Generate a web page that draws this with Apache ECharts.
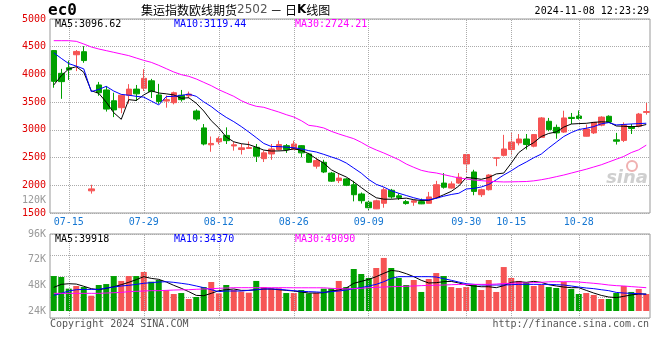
<!DOCTYPE html>
<html><head><meta charset="utf-8">
<script src="https://cdn.jsdelivr.net/npm/echarts/dist/echarts.min.js"></script>
<style>html,body{margin:0;padding:0;background:#fff}#c{width:660px;height:360px}</style>
</head><body><div id="c"></div>
<script>
const dates = ['07-11','07-12','07-15','07-16','07-17','07-18','07-19','07-22','07-23','07-24','07-25','07-26','07-29','07-30','07-31',
'08-01','08-02','08-05','08-06','08-07','08-08','08-09','08-12','08-13','08-14','08-15','08-16','08-19','08-20','08-21','08-22','08-23','08-26','08-27','08-28','08-29','08-30',
'09-02','09-03','09-04','09-05','09-06','09-09','09-10','09-11','09-12','09-13','09-18','09-19','09-20','09-23','09-24','09-25','09-26','09-27','09-30',
'10-08','10-09','10-10','10-11','10-14','10-15','10-16','10-17','10-18','10-21','10-22','10-23','10-24','10-25','10-28','10-29','10-30','10-31',
'11-01','11-04','11-05','11-06','11-07','11-08'];
const tickLabels = ['07-15','07-29','08-12','08-26','09-09','09-30','10-15','10-28'];
const opens = [4430,4020,4120,4355,4410,1900,3810,3720,3525,3400,3625,3735,3750,3885,3630,3520,3490,3625,3615,3340,
3035,2730,2785,2900,2710,2645,2665,2685,2480,2565,2645,2715,2645,2715,2565,2345,2415,2220,2085,2115,
2010,1843,1695,1575,1675,1910,1810,1705,1695,1705,1675,1775,2040,1950,2040,2385,2240,1830,1920,2490,
2540,2645,2765,2835,2705,2865,3155,3045,2960,3225,3250,2885,2945,3085,3245,2820,2810,3050,3065,3315];
const closes = [3875,3870,4085,4415,4250,1935,3670,3375,3360,3625,3735,3650,3930,3690,3510,3545,3670,3545,3645,3195,
2745,2755,2845,2805,2730,2675,2680,2525,2585,2655,2735,2645,2745,2585,2415,2445,2240,2075,2130,2000,
1830,1722,1595,1720,1920,1790,1780,1670,1720,1665,1790,2010,1965,2025,2145,2555,1890,1920,2185,2495,
2655,2780,2835,2735,2915,3215,3005,2945,3215,3205,3205,3015,3135,3230,3140,2795,3095,3025,3285,3330];
const lows = [3760,3560,3900,4060,4210,1850,3615,3330,3230,3300,3475,3520,3700,3575,3470,3400,3460,3510,3570,3165,
2720,2605,2740,2745,2625,2555,2660,2420,2420,2460,2625,2585,2640,2505,2405,2300,2220,2060,2040,1985,
1710,1670,1550,1570,1595,1760,1735,1650,1630,1660,1670,1760,1940,1940,2025,2220,1820,1790,1905,2345,
2520,2540,2720,2645,2685,2855,2975,2840,2945,3105,3185,2880,2925,3065,3124,2735,2780,2925,3045,3275];
const highs = [4440,4100,4250,4440,4510,2010,3865,3790,3670,3640,3825,3810,4095,3920,3830,3620,3690,3720,3690,3370,
3105,2880,2880,3045,2780,2745,2790,2745,2625,2745,2805,2745,2805,2725,2585,2490,2460,2240,2220,2130,
2080,1870,1720,1740,1960,1935,1855,1735,1735,1760,1880,2080,2220,2070,2220,2565,2280,1940,2200,2495,
2910,2945,2925,2925,2925,3230,3215,3095,3345,3305,3350,3095,3140,3245,3262,2945,3135,3105,3305,3485];
const ma5 = [3810,3975,4100,4140,4040,3705,3660,3500,3310,3190,3545,3530,3630,3705,3665,3650,3630,3570,3580,3480,
3340,3165,3035,2870,2785,2750,2735,2688,2635,2618,2620,2627,2660,2630,2570,2480,2400,2280,2210,2150,
2060,1960,1860,1775,1750,1748,1758,1768,1740,1725,1728,1770,1830,1890,1985,2140,2128,2108,2140,2205,
2220,2400,2590,2690,2770,2880,2935,2962,3050,3105,3113,3118,3135,3145,3140,3070,3065,3058,3064,3096.62];
const ma10 = [4390,4290,4195,4150,4100,3690,3730,3785,3700,3640,3625,3605,3590,3520,3450,3600,3605,3620,3645,3605,
3505,3420,3315,3225,3148,3060,2962,2860,2755,2700,2698,2688,2678,2656,2625,2600,2558,2512,2467,2402,
2311,2219,2104,2017,1968,1902,1856,1816,1775,1741,1737,1766,1803,1834,1856,1933,1944,1969,2015,2098,
2185,2262,2349,2420,2497,2563,2674,2777,2880,2951,3006,3029,3059,3109,3131,3089,3098,3106,3113,3119.44];
const ma30 = [4609,4609,4609,4597,4549,4495,4459,4429,4399,4369,4339,4296,4254,4218,4164,4104,4044,3996,3966,3918,
3857,3797,3725,3665,3605,3527,3467,3425,3407,3364,3322,3274,3232,3166,3082,3064,3034,2974,2926,2883,
2841,2775,2697,2637,2583,2523,2462,2384,2324,2270,2240,2222,2192,2162,2132,2114,2096,2084,2072,2066,
2060,2062,2065,2068,2080,2100,2125,2155,2185,2220,2255,2290,2330,2370,2420,2470,2520,2590,2640,2724.21];
const volumes = [56700,55800,44900,47400,46400,38300,48300,49200,56700,52100,56700,56700,60500,51400,53000,43400,39900,40800,35200,37100,
46400,51100,40500,48300,43600,42100,41100,52100,46400,45200,45200,40800,40800,43600,40500,41100,44900,45200,52100,46400,
63300,58600,54900,64200,73600,64200,54900,48300,53000,41800,53900,59500,56700,46400,45500,46400,48300,43600,53000,41800,
65100,54900,52100,51100,47400,48300,46400,45500,51100,44600,39900,40800,39000,35200,35200,40800,47400,41800,44600,39900];
const vma5 = [46100,48900,49500,49200,47100,44900,43900,45200,46700,48600,50800,53300,56100,54500,53600,51100,48000,45200,42100,38600,
38300,40500,43000,43900,44600,43300,43300,43900,44600,44600,43900,43300,42700,41800,40800,40800,41100,42700,43600,45500,
49900,51700,53600,56100,59200,62000,61100,58900,56100,52700,50200,50500,51400,51700,50200,48300,47400,46700,46700,45800,
47700,50800,51400,50800,51700,50800,48600,47400,46400,45800,45800,43300,40800,38600,37100,36500,37700,39000,39900,39918];
const vma10 = [38600,40500,42700,43900,44200,44200,44200,45500,46400,47400,48000,48900,49900,50500,51100,51400,50800,49900,48900,47400,
45800,43900,42100,42700,42700,42700,43300,43900,44600,44600,44300,43600,43000,42400,42100,41800,41400,42100,42700,43600,
44900,45800,47400,48900,51400,54500,56100,56100,56100,56100,56100,55800,54200,52700,51100,49500,48900,48300,48300,48300,
48300,48600,48900,48900,48900,48900,48900,48600,48300,47400,46400,45500,44900,43900,43000,41400,40800,40500,40200,39600];
const vma30 = [40500,40500,40500,40500,40500,40500,40500,40800,41100,41400,42100,42400,42700,43000,43000,43300,43600,43800,43900,44300,
44600,44900,45200,45500,45800,45800,45800,45800,45800,45800,45800,45800,45700,45700,45700,45700,45700,45200,44900,44700,
44900,45200,45800,46100,46400,46700,46900,47100,47400,47700,48000,48100,48300,48600,48800,48900,48900,48900,48900,49200,
49700,49900,50200,50300,50500,50800,51300,51400,51400,51400,51100,50500,49900,49200,48300,47700,47400,46800,46300,45800];
const volTicks = [24000, 48000, 72000, 96000];

const RED = '#f65454', GREEN = '#00a000', MONO = '"DejaVu Sans Mono", "Liberation Mono", monospace';
const candleData = dates.map((d, i) => [opens[i], closes[i], lows[i], highs[i]]);
const volData = volumes.map((v, i) => ({value: v, itemStyle: {color: closes[i] >= opens[i] ? RED : GREEN}}));
const vline = {symbol: ['none', 'none'], silent: true, label: {show: false}, emphasis: {disabled: true},
  lineStyle: {type: 'dotted', color: '#aaa', width: 1}, data: tickLabels.map(d => ({xAxis: d}))};
const lineS = (data, color, xi, yi) => ({type: 'line', data, xAxisIndex: xi, yAxisIndex: yi, symbol: 'none', silent: true,
  lineStyle: {color, width: 1}, itemStyle: {color}, z: 5});

const chart = echarts.init(document.getElementById('c'), null, {renderer: 'canvas'});
chart.setOption({
  animation: false,
  backgroundColor: '#fff',
  grid: [
    {left: 50, top: 19, width: 600, height: 194, show: true, borderColor: '#999', borderWidth: 1, backgroundColor: 'transparent', outerBoundsMode: 'none', containLabel: false},
    {left: 50, top: 234, width: 600, height: 77, show: false, outerBoundsMode: 'none', containLabel: false},
    {left: 50, top: 234, width: 600, height: 84, show: true, borderColor: '#999', borderWidth: 1, backgroundColor: 'transparent', outerBoundsMode: 'none', containLabel: false}
  ],
  xAxis: [
    {type: 'category', gridIndex: 0, data: dates, boundaryGap: true, axisLine: {show: false}, axisTick: {show: false},
      splitLine: {show: false},
      axisLabel: {interval: (idx, val) => tickLabels.includes(val), color: '#1677d2', fontFamily: MONO, fontSize: 10, margin: 4}},
    {type: 'category', gridIndex: 1, data: dates, boundaryGap: true, axisLine: {show: false}, axisTick: {show: false},
      axisLabel: {show: false}, splitLine: {show: false}},
    {type: 'category', gridIndex: 2, data: dates, boundaryGap: true, axisLine: {show: false}, axisTick: {show: false},
      axisLabel: {show: false}, splitLine: {show: false}}
  ],
  yAxis: [
    {type: 'value', gridIndex: 0, min: 1500, max: 5000, interval: 500, axisLine: {show: false}, axisTick: {show: false},
      axisLabel: {color: '#e00000', fontFamily: MONO, fontSize: 10, margin: 4, formatter: v => String(v)},
      splitLine: {show: true, lineStyle: {type: 'dotted', color: '#aaa', width: 1}}},
    {type: 'value', gridIndex: 1, min: volTicks[0], max: volTicks[3], interval: 24000, axisLine: {show: false}, axisTick: {show: false},
      axisLabel: {color: '#999', fontFamily: MONO, fontSize: 10, margin: 4, formatter: v => (v / 1000) + 'K'},
      splitLine: {show: false}},
    {type: 'value', gridIndex: 2, min: 0, max: 4, interval: 1, axisLine: {show: false}, axisTick: {show: false},
      axisLabel: {show: false}, splitLine: {show: true, lineStyle: {type: 'dotted', color: '#aaa', width: 1}}}
  ],
  series: [
    {type: 'candlestick', xAxisIndex: 0, yAxisIndex: 0, data: candleData, barWidth: 6, silent: true,
      itemStyle: {color: RED, color0: GREEN, borderColor: RED, borderColor0: GREEN, borderWidth: 1},
      markLine: vline, z: 3},
    lineS(ma5, '#000000', 0, 0),
    lineS(ma10, '#0000ff', 0, 0),
    lineS(ma30, '#ff00ff', 0, 0),
    {type: 'bar', xAxisIndex: 1, yAxisIndex: 1, data: volData, barWidth: 6, silent: true, z: 3},
    lineS(vma5, '#000000', 1, 1),
    lineS(vma10, '#0000ff', 1, 1),
    lineS(vma30, '#ff00ff', 1, 1),
    {type: 'line', xAxisIndex: 2, yAxisIndex: 2, data: [], markLine: vline, z: 1}
  ],
  graphic: [
    {type: 'text', x: 48, y: 11, style: {text: 'ec0', font: 'bold 16px ' + MONO, fill: '#000', verticalAlign: 'middle'}},
    {type: 'text', x: 141, y: 10, style: {
      text: '{a|集运指数欧线期货}{b|2502}{a| － 日}{k|K}{a|线图}', verticalAlign: 'middle',
      rich: {a: {font: '12px "Noto Sans CJK SC"', fill: '#000'}, b: {font: '12px "DejaVu Sans"', fill: '#555'}, k: {font: 'bold 12px "DejaVu Sans"', fill: '#000'}}}},
    {type: 'text', x: 649, y: 11, style: {text: '2024-11-08 12:23:29', font: '10px ' + MONO, fill: '#000', align: 'right', verticalAlign: 'middle'}},
    {type: 'text', x: 55, y: 24, z: 10, style: {text: 'MA5:3096.62', font: '10px ' + MONO, fill: '#000', verticalAlign: 'middle'}},
    {type: 'text', x: 174, y: 24, z: 10, style: {text: 'MA10:3119.44', font: '10px ' + MONO, fill: '#0000ff', verticalAlign: 'middle'}},
    {type: 'text', x: 295, y: 24, z: 10, style: {text: 'MA30:2724.21', font: '10px ' + MONO, fill: '#ff00ff', verticalAlign: 'middle'}},
    {type: 'text', x: 46, y: 200, style: {text: '120K', font: '10px ' + MONO, fill: '#999', align: 'right', verticalAlign: 'middle'}},
    {type: 'text', x: 55, y: 239, z: 10, style: {text: 'MA5:39918', font: '10px ' + MONO, fill: '#000', verticalAlign: 'middle'}},
    {type: 'text', x: 174, y: 239, z: 10, style: {text: 'MA10:34370', font: '10px ' + MONO, fill: '#0000ff', verticalAlign: 'middle'}},
    {type: 'text', x: 295, y: 239, z: 10, style: {text: 'MA30:49090', font: '10px ' + MONO, fill: '#ff00ff', verticalAlign: 'middle'}},
    {type: 'text', x: 50, y: 324, style: {text: 'Copyright 2024 SINA.COM', font: '10px ' + MONO, fill: '#555', verticalAlign: 'middle'}},
    {type: 'text', x: 649, y: 324, style: {text: 'http://finance.sina.com.cn', font: '10px ' + MONO, fill: '#555', align: 'right', verticalAlign: 'middle'}},
    {type: 'text', x: 648, y: 178, z: 0, style: {text: 'sina', font: 'italic bold 18px "DejaVu Sans"', fill: '#cfcfcf', align: 'right', verticalAlign: 'middle'}},
    {type: 'circle', shape: {cx: 632, cy: 166, r: 5}, z: 0, style: {fill: 'none', stroke: '#f0b0b0', lineWidth: 2}}
  ]
});
</script></body></html>
